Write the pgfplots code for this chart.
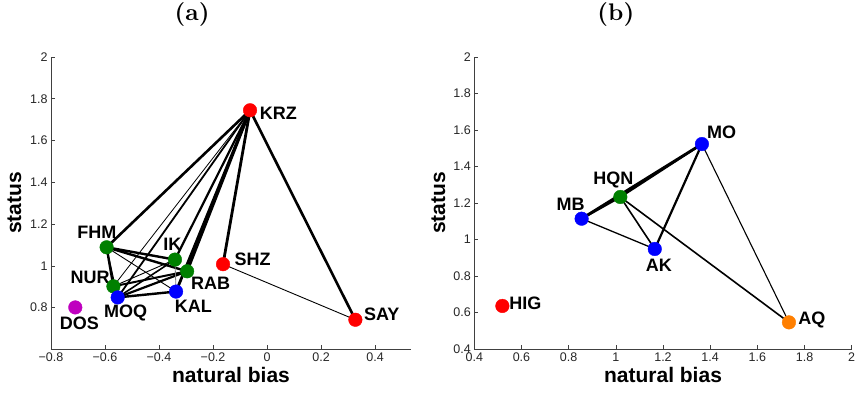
\documentclass[border=0pt]{standalone}
\usepackage{fontspec}
\setsansfont{Liberation Sans}
\newfontfamily\ttlfont[Extension=.otf]{lmroman10-bold}
\usepackage{pgfplots}
\pgfplotsset{compat=1.18}
\definecolor{mred}{RGB}{255,0,0}
\definecolor{mgreen}{RGB}{0,128,0}
\definecolor{mblue}{RGB}{0,0,255}
\definecolor{mmag}{RGB}{191,0,191}
\definecolor{morange}{RGB}{255,127,0}
\tikzset{
  lab/.style={font=\sffamily\bfseries\fontsize{18}{20}\selectfont,inner sep=0pt,anchor=center},
  ttl/.style={font=\ttlfont\fontsize{24}{28}\selectfont,anchor=base,yshift=36pt,inner sep=0pt},
}
\pgfplotsset{
  common/.style={
    scale only axis,
    height=292pt,
    axis x line*=bottom,
    axis y line*=left,
    axis line style={draw=black!75,line width=0.7pt,-},
    tick align=inside,
    tick style={draw=black!75,line width=0.6pt},
    major tick length=4pt,
    tick label style={font=\sffamily\fontsize{12.5}{14}\selectfont,text=black!85},
    label style={font=\sffamily\bfseries\fontsize{21}{24}\selectfont},
    xlabel style={at={(axis description cs:0.5,0)},anchor=base,yshift=-34pt},
    clip=false,
    xlabel={natural bias},
    ylabel={status},
  },
  nd/.style={only marks,mark=*,mark size=6.8pt,mark options={draw=none}},
}
\begin{document}
\begin{tikzpicture}
% ---------------- (a)
\begin{axis}[common,
  width=360pt,
  at={(0pt,0pt)},anchor=south west,
  xmin=-0.8,xmax=0.533,ymin=0.602,ymax=2,
  xtick={-0.8,-0.6,-0.4,-0.2,0,0.2,0.4},
  xticklabels={−0.8,−0.6,−0.4,−0.2,0,0.2,0.4},
  ytick={0.8,1,1.2,1.4,1.6,1.8,2},
  yticklabels={0.8,1,1.2,1.4,1.6,1.8,2},
  ylabel style={at={(axis description cs:-0.1014,0.5)},anchor=center},
]
% edges from KRZ
\addplot[black,line width=2.6pt] coordinates {(-0.063,1.745) (-0.594,1.089)};
\addplot[black,line width=0.8pt] coordinates {(-0.063,1.745) (-0.569,0.902)};
\addplot[black,line width=1.8pt] coordinates {(-0.063,1.745) (-0.553,0.849)};
\addplot[black,line width=2.2pt] coordinates {(-0.063,1.745) (-0.341,1.030)};
\addplot[black,line width=2.8pt] coordinates {(-0.063,1.745) (-0.296,0.974)};
\addplot[black,line width=2.8pt] coordinates {(-0.063,1.745) (-0.337,0.877)};
\addplot[black,line width=2.8pt] coordinates {(-0.063,1.745) (-0.163,1.008)};
\addplot[black,line width=2.6pt] coordinates {(-0.063,1.745) (0.327,0.742)};
\addplot[black,line width=0.9pt] coordinates {(-0.163,1.008) (0.327,0.742)};
% cluster edges
\addplot[black,line width=2.4pt] coordinates {(-0.594,1.089) (-0.569,0.902)};
\addplot[black,line width=2.4pt] coordinates {(-0.594,1.089) (-0.341,1.030)};
\addplot[black,line width=2.4pt] coordinates {(-0.594,1.089) (-0.296,0.974)};
\addplot[black,line width=0.9pt] coordinates {(-0.594,1.089) (-0.337,0.877)};
\addplot[black,line width=0.9pt] coordinates {(-0.594,1.089) (-0.553,0.849)};
\addplot[black,line width=0.9pt] coordinates {(-0.569,0.902) (-0.341,1.030)};
\addplot[black,line width=2.0pt] coordinates {(-0.569,0.902) (-0.296,0.974)};
\addplot[black,line width=1.8pt] coordinates {(-0.569,0.902) (-0.553,0.849)};
\addplot[black,line width=1.6pt] coordinates {(-0.553,0.849) (-0.341,1.030)};
\addplot[black,line width=2.2pt] coordinates {(-0.553,0.849) (-0.296,0.974)};
\addplot[black,line width=2.4pt] coordinates {(-0.553,0.849) (-0.337,0.877)};
\addplot[black!50,line width=0.8pt] coordinates {(-0.341,1.030) (-0.337,0.877)};
% nodes
\addplot[nd,mred] coordinates {(-0.063,1.745) (-0.163,1.008) (0.327,0.742)};
\addplot[nd,mgreen] coordinates {(-0.594,1.089) (-0.341,1.030) (-0.296,0.974) (-0.569,0.902)};
\addplot[nd,mblue] coordinates {(-0.553,0.849) (-0.337,0.877)};
\addplot[nd,mmag] coordinates {(-0.710,0.801)};
% labels
\node[lab,xshift=28.3pt,yshift=-3.3pt] at (axis cs:-0.063,1.745) {KRZ};
\node[lab,xshift=29.5pt,yshift=4.7pt] at (axis cs:-0.163,1.008) {SHZ};
\node[lab,xshift=26.4pt,yshift=5pt] at (axis cs:0.327,0.742) {SAY};
\node[lab,xshift=-9.7pt,yshift=15.4pt] at (axis cs:-0.594,1.089) {FHM};
\node[lab,xshift=-2.5pt,yshift=15pt] at (axis cs:-0.341,1.030) {IK};
\node[lab,xshift=23.5pt,yshift=-12.3pt] at (axis cs:-0.296,0.974) {RAB};
\node[lab,xshift=-23.3pt,yshift=9pt] at (axis cs:-0.569,0.902) {NUR};
\node[lab,xshift=8pt,yshift=-15.6pt] at (axis cs:-0.553,0.849) {MOQ};
\node[lab,xshift=17.3pt,yshift=-14.7pt] at (axis cs:-0.337,0.877) {KAL};
\node[lab,xshift=4pt,yshift=-15.6pt] at (axis cs:-0.710,0.801) {DOS};
\node[ttl] at (rel axis cs:0.392,1) {(a)};
\end{axis}
% ---------------- (b)
\begin{axis}[common,
  width=377.4pt,
  at={(423.3pt,0pt)},anchor=south west,
  xmin=0.4,xmax=2,ymin=0.4,ymax=2,
  xtick={0.4,0.6,0.8,1,1.2,1.4,1.6,1.8,2},
  xticklabels={0.4,0.6,0.8,1,1.2,1.4,1.6,1.8,2},
  ytick={0.4,0.6,0.8,1,1.2,1.4,1.6,1.8,2},
  yticklabels={0.4,0.6,0.8,1,1.2,1.4,1.6,1.8,2},
  ylabel style={at={(axis description cs:-0.0955,0.5)},anchor=center},
]
\addplot[black,line width=2.8pt] coordinates {(0.855,1.114) (1.365,1.523)};
\addplot[black,line width=2.2pt] coordinates {(0.855,1.114) (1.019,1.233)};
\addplot[black,line width=2.2pt] coordinates {(1.019,1.233) (1.365,1.523)};
\addplot[black,line width=1.3pt] coordinates {(0.855,1.114) (1.165,0.948)};
\addplot[black,line width=1.6pt] coordinates {(1.019,1.233) (1.165,0.948)};
\addplot[black,line width=1.6pt] coordinates {(1.019,1.233) (1.734,0.546)};
\addplot[black,line width=2.2pt] coordinates {(1.365,1.523) (1.165,0.948)};
\addplot[black,line width=1.1pt] coordinates {(1.365,1.523) (1.734,0.546)};
\addplot[nd,mblue] coordinates {(1.365,1.523) (0.855,1.114) (1.165,0.948)};
\addplot[nd,mgreen] coordinates {(1.019,1.233)};
\addplot[nd,mred] coordinates {(0.519,0.636)};
\addplot[nd,morange] coordinates {(1.734,0.546)};
\node[lab,xshift=19.8pt,yshift=12pt] at (axis cs:1.365,1.523) {MO};
\node[lab,xshift=-7pt,yshift=16.7pt] at (axis cs:1.019,1.233) {HQN};
\node[lab,xshift=-11pt,yshift=14pt] at (axis cs:0.855,1.114) {MB};
\node[lab,xshift=4pt,yshift=-16.3pt] at (axis cs:1.165,0.948) {AK};
\node[lab,xshift=23pt,yshift=2.4pt] at (axis cs:0.519,0.636) {HIG};
\node[lab,xshift=22.8pt,yshift=2.7pt] at (axis cs:1.734,0.546) {AQ};
\node[ttl] at (rel axis cs:0.375,1) {(b)};
\end{axis}
\pgfresetboundingbox
\path (-51pt,-44pt) rectangle (807pt,349pt);
\end{tikzpicture}
\end{document}
